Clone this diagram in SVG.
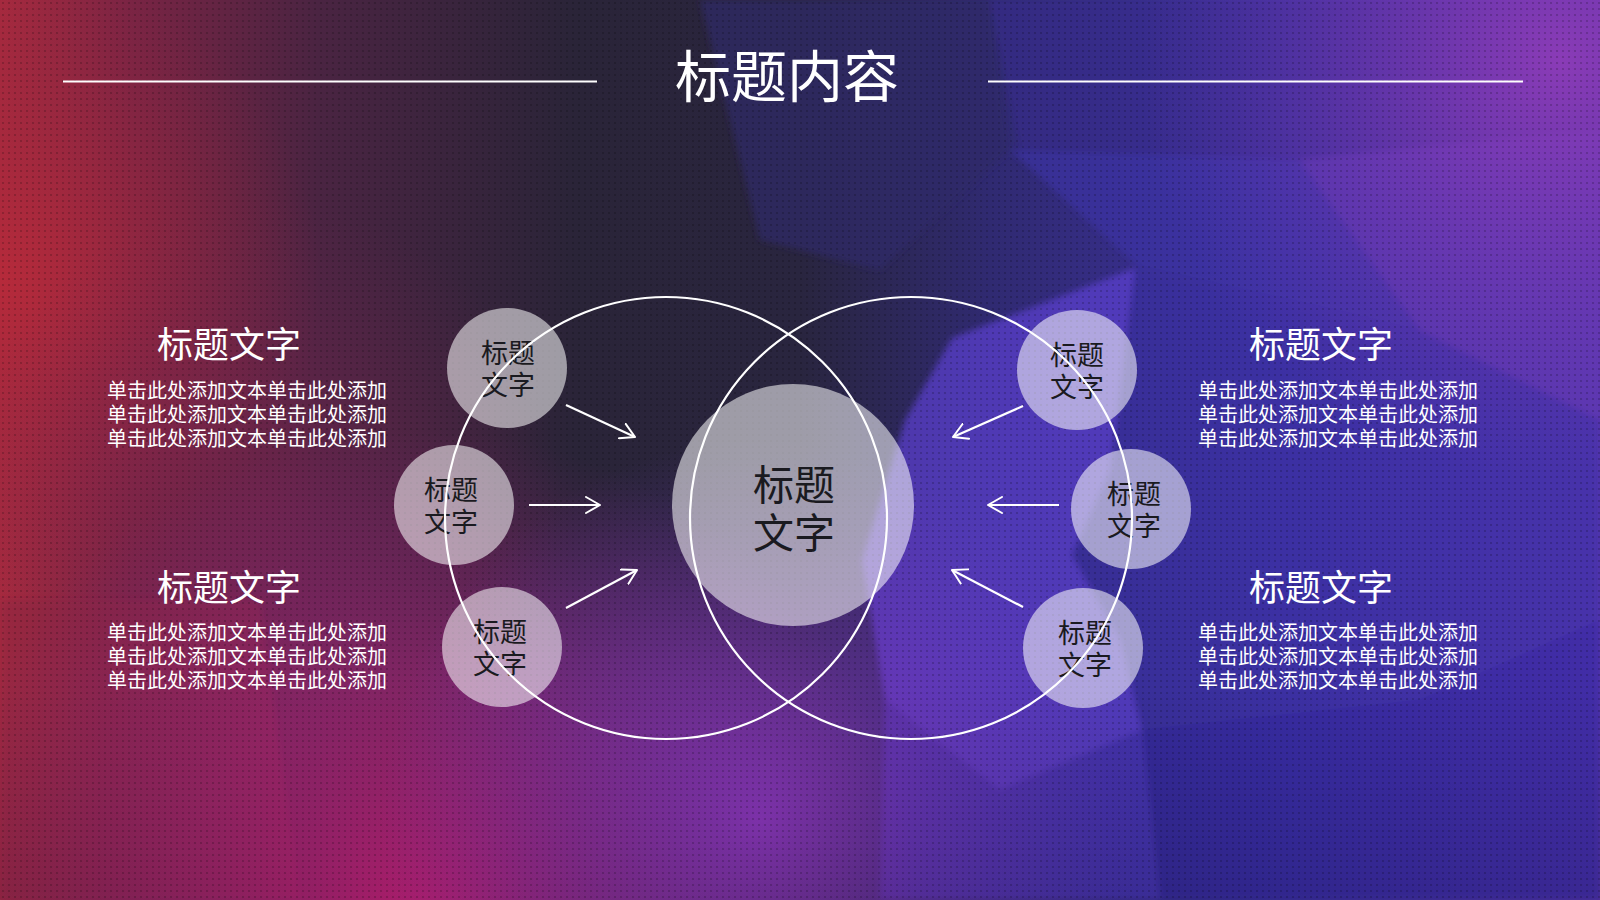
<svg xmlns="http://www.w3.org/2000/svg" width="1600" height="900" viewBox="0 0 1600 900">
<defs>
  <linearGradient id="bg" x1="0" y1="0" x2="1600" y2="0" gradientUnits="userSpaceOnUse">
    <stop offset="0" stop-color="#a82a3e"/>
    <stop offset="0.08" stop-color="#7a2444"/>
    <stop offset="0.2" stop-color="#4a2442"/>
    <stop offset="0.36" stop-color="#2a2438"/>
    <stop offset="0.5" stop-color="#29253f"/>
    <stop offset="0.62" stop-color="#302a72"/>
    <stop offset="0.8" stop-color="#3d31a0"/>
    <stop offset="1" stop-color="#5836b0"/>
  </linearGradient>
  <radialGradient id="mag" cx="420" cy="930" r="500" gradientUnits="userSpaceOnUse">
    <stop offset="0" stop-color="#d0207e" stop-opacity="0.95"/>
    <stop offset="0.5" stop-color="#b02580" stop-opacity="0.55"/>
    <stop offset="1" stop-color="#8a2580" stop-opacity="0"/>
  </radialGradient>
  <radialGradient id="pur" cx="760" cy="820" r="380" gradientUnits="userSpaceOnUse">
    <stop offset="0" stop-color="#9038c8" stop-opacity="0.85"/>
    <stop offset="1" stop-color="#7035c0" stop-opacity="0"/>
  </radialGradient>
  <radialGradient id="tr" cx="1560" cy="60" r="420" gradientUnits="userSpaceOnUse">
    <stop offset="0" stop-color="#8e3cb8" stop-opacity="0.95"/>
    <stop offset="1" stop-color="#6a36b0" stop-opacity="0"/>
  </radialGradient>
  <radialGradient id="redl" cx="0" cy="280" r="320" gradientUnits="userSpaceOnUse">
    <stop offset="0" stop-color="#b82a3a" stop-opacity="0.9"/>
    <stop offset="1" stop-color="#902540" stop-opacity="0"/>
  </radialGradient>
  <radialGradient id="midl" cx="260" cy="500" r="300" gradientUnits="userSpaceOnUse">
    <stop offset="0" stop-color="#7a2450" stop-opacity="0.55"/>
    <stop offset="1" stop-color="#7a2450" stop-opacity="0"/>
  </radialGradient>
  <linearGradient id="vdark" x1="0" y1="0" x2="0" y2="900" gradientUnits="userSpaceOnUse">
    <stop offset="0" stop-color="#000" stop-opacity="0"/>
    <stop offset="0.75" stop-color="#000" stop-opacity="0"/>
    <stop offset="1" stop-color="#000" stop-opacity="0.12"/>
  </linearGradient>
  <pattern id="dots" width="6" height="6" patternUnits="userSpaceOnUse">
    <circle cx="3" cy="3" r="1.1" fill="#000" fill-opacity="0.22"/>
  </pattern>
  <filter id="soft" x="-10%" y="-10%" width="120%" height="120%">
    <feGaussianBlur stdDeviation="3"/>
  </filter>
  <marker id="arr" viewBox="0 0 16 18" refX="15" refY="9" markerWidth="16" markerHeight="18" markerUnits="userSpaceOnUse" orient="auto">
    <path d="M1,1 L15,9 L1,17" fill="none" stroke="#ffffff" stroke-width="2" stroke-linecap="round" stroke-linejoin="round"/>
  </marker>
  <style>
    .cjk { font-family: "Noto Sans CJK SC", "Noto Sans", sans-serif; }
    .title { font-size: 56px; fill: #ffffff; }
    .head { font-size: 36px; fill: #ffffff; }
    .body { font-size: 20px; fill: #ffffff; }
    .small { font-size: 27px; fill: #1a1a20; }
    .big { font-size: 41px; fill: #1a1a20; }
    .bubble { fill: #ffffff; fill-opacity: 0.55; }
    .ring { fill: none; stroke: #ffffff; stroke-width: 2.2; }
    .rule { stroke: #ffffff; stroke-width: 2; }
    .conn { stroke: #ffffff; stroke-width: 2.2; fill: none; marker-end: url(#arr); }
  </style>
</defs>

<g id="background">
  <rect width="1600" height="900" fill="url(#bg)"/>
  <rect width="1600" height="900" fill="url(#redl)"/>
  <rect width="1600" height="900" fill="url(#midl)"/>
  <g filter="url(#soft)">
    <polygon points="700,0 990,0 1010,150 880,270 760,240" fill="#2e2a6a" fill-opacity="0.7"/>
    <polygon points="990,0 1600,0 1600,130 1300,160 1020,150" fill="#3a2e90" fill-opacity="0.5"/>
    <polygon points="1010,150 1300,160 1420,330 1140,268" fill="#3a30a8" fill-opacity="0.6"/>
    <polygon points="1300,160 1600,130 1600,420 1420,330" fill="#5a36b2" fill-opacity="0.6"/>
    <polygon points="952,338 1135,268 1110,470 1072,555 1120,640 1142,730 1000,790 885,700 862,560 905,420" fill="#5b3fd0" fill-opacity="0.7"/>
    <polygon points="1135,268 1420,330 1600,420 1600,620 1420,700 1142,730 1120,640 1072,555 1110,470" fill="#3c2fa6" fill-opacity="0.55"/>
    <polygon points="1142,730 1420,700 1600,620 1600,900 1160,900" fill="#3129a0" fill-opacity="0.6"/>
    <polygon points="885,700 1000,790 1142,730 1160,900 880,900" fill="#4a35c4" fill-opacity="0.55"/>
    <polygon points="0,600 260,600 300,900 0,900" fill="#8a2040" fill-opacity="0.45"/>
  </g>
  <rect width="1600" height="900" fill="url(#mag)"/>
  <rect width="1600" height="900" fill="url(#pur)"/>
  <rect width="1600" height="900" fill="url(#tr)"/>
  <rect width="1600" height="900" fill="url(#vdark)"/>
  <rect width="1600" height="900" fill="url(#dots)"/>
</g>

<g id="header">
  <line class="rule" x1="63" y1="81.5" x2="597" y2="81.5"/>
  <line class="rule" x1="988" y1="81.5" x2="1523" y2="81.5"/>
  <text class="cjk title" x="787" y="97" text-anchor="middle">标题内容</text>
</g>

<g id="text-top-left">
  <text class="cjk head" x="157" y="358">标题文字</text>
  <text class="cjk body" x="107" y="398">单击此处添加文本单击此处添加</text>
  <text class="cjk body" x="107" y="422">单击此处添加文本单击此处添加</text>
  <text class="cjk body" x="107" y="446">单击此处添加文本单击此处添加</text>
</g>
<g id="text-bottom-left">
  <text class="cjk head" x="157" y="601">标题文字</text>
  <text class="cjk body" x="107" y="640">单击此处添加文本单击此处添加</text>
  <text class="cjk body" x="107" y="664">单击此处添加文本单击此处添加</text>
  <text class="cjk body" x="107" y="688">单击此处添加文本单击此处添加</text>
</g>
<g id="text-top-right">
  <text class="cjk head" x="1249" y="358">标题文字</text>
  <text class="cjk body" x="1198" y="398">单击此处添加文本单击此处添加</text>
  <text class="cjk body" x="1198" y="422">单击此处添加文本单击此处添加</text>
  <text class="cjk body" x="1198" y="446">单击此处添加文本单击此处添加</text>
</g>
<g id="text-bottom-right">
  <text class="cjk head" x="1249" y="601">标题文字</text>
  <text class="cjk body" x="1198" y="640">单击此处添加文本单击此处添加</text>
  <text class="cjk body" x="1198" y="664">单击此处添加文本单击此处添加</text>
  <text class="cjk body" x="1198" y="688">单击此处添加文本单击此处添加</text>
</g>

<g id="center">
  <circle class="bubble" cx="793" cy="505" r="121"/>
  <text class="cjk big" x="794" y="500" text-anchor="middle">标题</text>
  <text class="cjk big" x="794" y="548" text-anchor="middle">文字</text>
</g>

<g id="node-l1">
  <circle class="bubble" cx="507" cy="368" r="60"/>
  <text class="cjk small" x="508" y="363" text-anchor="middle">标题</text>
  <text class="cjk small" x="508" y="395" text-anchor="middle">文字</text>
</g>
<g id="node-l2">
  <circle class="bubble" cx="454" cy="505" r="60"/>
  <text class="cjk small" x="451" y="500" text-anchor="middle">标题</text>
  <text class="cjk small" x="451" y="532" text-anchor="middle">文字</text>
</g>
<g id="node-l3">
  <circle class="bubble" cx="502" cy="647" r="60"/>
  <text class="cjk small" x="500" y="642" text-anchor="middle">标题</text>
  <text class="cjk small" x="500" y="674" text-anchor="middle">文字</text>
</g>
<g id="node-r1">
  <circle class="bubble" cx="1077" cy="370" r="60"/>
  <text class="cjk small" x="1077" y="365" text-anchor="middle">标题</text>
  <text class="cjk small" x="1077" y="397" text-anchor="middle">文字</text>
</g>
<g id="node-r2">
  <circle class="bubble" cx="1131" cy="509" r="60"/>
  <text class="cjk small" x="1134" y="504" text-anchor="middle">标题</text>
  <text class="cjk small" x="1134" y="536" text-anchor="middle">文字</text>
</g>
<g id="node-r3">
  <circle class="bubble" cx="1083" cy="648" r="60"/>
  <text class="cjk small" x="1085" y="643" text-anchor="middle">标题</text>
  <text class="cjk small" x="1085" y="675" text-anchor="middle">文字</text>
</g>

<g id="rings">
  <circle class="ring" cx="666" cy="518" r="221"/>
  <circle class="ring" cx="911" cy="518" r="221"/>
</g>

<g id="connectors">
  <line class="conn" x1="566" y1="405" x2="635" y2="437"/>
  <line class="conn" x1="529" y1="505" x2="600" y2="505"/>
  <line class="conn" x1="566" y1="608" x2="637" y2="570"/>
  <line class="conn" x1="1023" y1="406" x2="953" y2="437"/>
  <line class="conn" x1="1059" y1="505" x2="988" y2="505"/>
  <line class="conn" x1="1023" y1="607" x2="952" y2="570"/>
</g>
</svg>
